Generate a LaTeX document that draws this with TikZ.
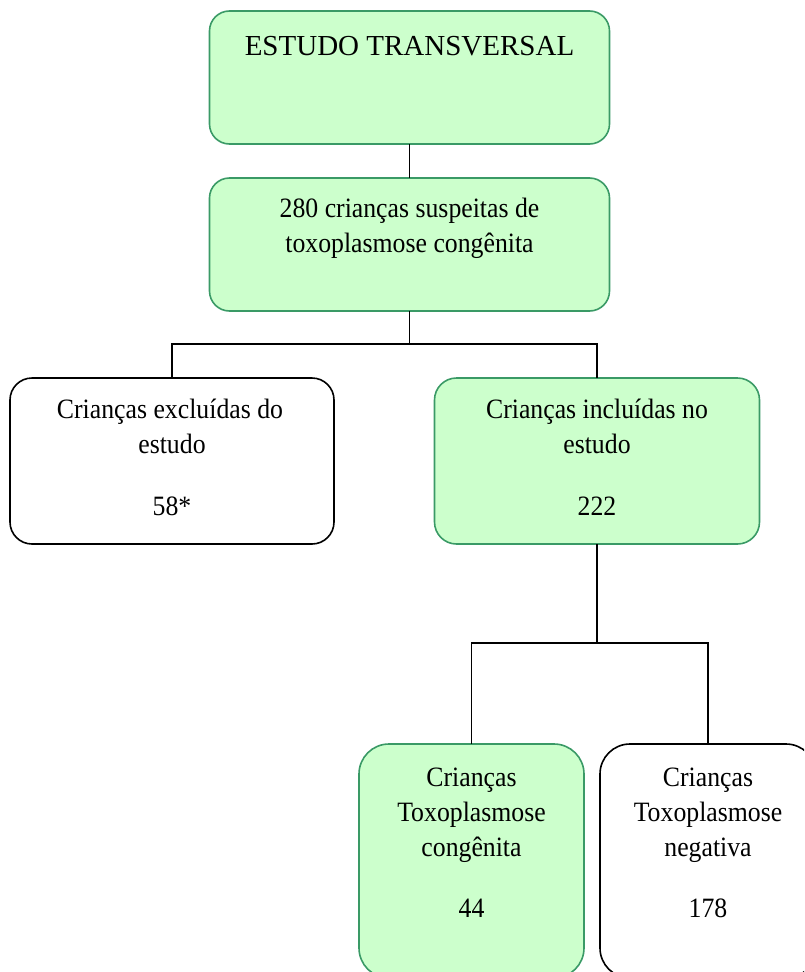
\documentclass[tikz,border=0pt]{standalone}
\usepackage{fontspec}
\setmainfont{Liberation Serif}
\definecolor{boxgreen}{RGB}{204,255,204}
\definecolor{edgegreen}{RGB}{58,154,102}
\newcommand{\narrowtxt}[1]{\scalebox{0.92}[1]{#1}}
\begin{document}
\begin{tikzpicture}[x=1pt,y=-1pt,
  box/.style={draw, line width=1.6pt, inner sep=0pt, outer sep=0pt, rounded corners=20pt},
  greenbox/.style={box, draw=edgegreen, fill=boxgreen},
  whitebox/.style={box, draw=black, fill=white},
  titletxt/.style={anchor=base, inner sep=0pt, font=\fontsize{29}{35}\selectfont},
  txt/.style={anchor=base, inner sep=0pt, font=\fontsize{28}{34}\selectfont},
  conn/.style={draw=black, line width=1.5pt}]
\useasboundingbox (0,0) rectangle (804,972);
\clip (0,0) rectangle (804,972);
% boxes
\node[greenbox, minimum width=400pt, minimum height=133pt] (b1) at (409.5,77.5) {};
\node[greenbox, minimum width=400pt, minimum height=133pt] (b2) at (409.5,244.5) {};
\node[whitebox, minimum width=324pt, minimum height=166pt, rounded corners=22pt] (b3) at (172,461) {};
\node[greenbox, minimum width=325pt, minimum height=166pt, rounded corners=22pt] (b4) at (597,461) {};
\node[greenbox, minimum width=225pt, minimum height=234pt, rounded corners=30pt] (b5) at (471.5,861) {};
\node[whitebox, minimum width=216pt, minimum height=234pt, rounded corners=30pt] (b6) at (708,861) {};
% connectors
\coordinate (j1) at (409.5,344);
\coordinate (j2) at (597,643);
\draw[conn] (b1.south) -- (b2.north);
\draw[conn] (b2.south) -- (j1) -| (b3.north);
\draw[conn] (j1) -| (b4.north);
\draw[conn] (b4.south) -- (j2) -| (b5.north);
\draw[conn] (j2) -| (b6.north);
% texts
\node[titletxt] (t1) at (409.5,55) {ESTUDO TRANSVERSAL};
\node[txt] (t2a) at (409.5,217) {\narrowtxt{280 crianças suspeitas de}};
\node[txt] (t2b) at (409.5,252) {\narrowtxt{toxoplasmose congênita}};
\node[txt] (t3a) at (170,418) {\narrowtxt{Crianças excluídas do}};
\node[txt] (t3b) at (172,453) {\narrowtxt{estudo}};
\node[txt] (t3c) at (172,515) {\narrowtxt{58*}};
\node[txt] (t4a) at (597,418) {\narrowtxt{Crianças incluídas no}};
\node[txt] (t4b) at (597,453) {\narrowtxt{estudo}};
\node[txt] (t4c) at (597,515) {\narrowtxt{222}};
\node[txt] (t5a) at (471.5,786) {\narrowtxt{Crianças}};
\node[txt] (t5b) at (471.5,821) {\narrowtxt{Toxoplasmose}};
\node[txt] (t5c) at (471.5,856) {\narrowtxt{congênita}};
\node[txt] (t5d) at (471.5,917) {\narrowtxt{44}};
\node[txt] (t6a) at (708,786) {\narrowtxt{Crianças}};
\node[txt] (t6b) at (708,821) {\narrowtxt{Toxoplasmose}};
\node[txt] (t6c) at (708,856) {\narrowtxt{negativa}};
\node[txt] (t6d) at (708,917) {\narrowtxt{178}};
\end{tikzpicture}
\end{document}
